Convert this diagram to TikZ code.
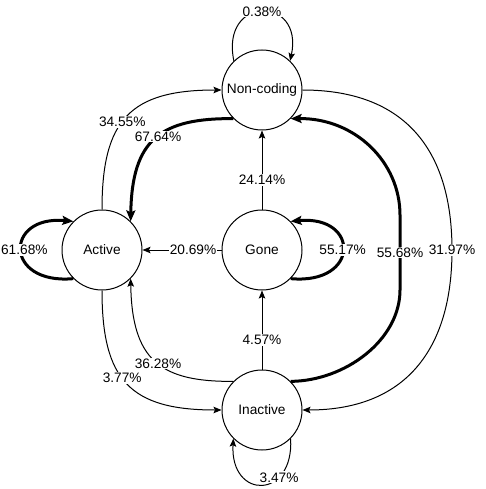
\documentclass[tikz,border=0pt]{standalone}
\usepackage{fontspec}
\setmainfont{Liberation Sans}
\usetikzlibrary{arrows.meta}
\begin{document}
\begin{tikzpicture}[x=1pt,y=-1pt,
  state/.style={circle,draw,line width=1pt,fill=white,minimum size=80pt,inner sep=0pt,font=\fontsize{13.7}{16}\selectfont},
  edgethin/.style={line width=1pt,-{Stealth[length=8pt,width=6.5pt,inset=1.5pt]}},
  edgethick/.style={line width=3pt,-{Stealth[length=11pt,width=9pt,inset=2pt]}},
  lbl/.style={fill=white,inner sep=1pt,font=\fontsize{13.7}{16}\selectfont}]
\useasboundingbox (0,0) rectangle (486,489);

\node[state] (nc)   at (262,90)  {Non-coding};
\node[state] (act)  at (102,250) {Active};
\node[state] (gone) at (262,250) {Gone};
\node[state] (ina)  at (262,410) {Inactive};

% self loops
\draw[edgethin] (nc.134) .. controls (220,-5) and (304,-5) .. node[lbl,pos=0.5] {0.38\%} (nc.46);
\draw[edgethick] (act.225) .. controls (4,285) and (4,215) .. node[lbl,pos=0.5,xshift=3pt] {61.68\%} (act.135);
\draw[edgethick] (gone.-45) .. controls (360,285) and (360,215) .. node[lbl,pos=0.5] {55.17\%} (gone.45);
\draw[edgethin] (ina.-45) .. controls (294,500) and (230,500) .. node[lbl,pos=0.3] {3.47\%} (ina.225);

% straight edges
\draw[edgethin] (gone.90) -- node[lbl,pos=0.375] {24.14\%} (nc.270);
\draw[edgethin] (gone.180) -- node[lbl,pos=0.36] {20.69\%} (act.0);
\draw[edgethin] (ina.90) -- node[lbl,pos=0.375] {4.57\%} (gone.270);

% curved edges on the left
\draw[edgethin] (act.90) .. controls (102,120) and (130,90) .. node[lbl,pos=0.45] {34.55\%} (nc.180);
\draw[edgethick] (nc.225) .. controls (160,118) and (132,140) .. node[lbl,pos=0.47] {67.64\%} (act.45);
\draw[edgethin] (ina.135) .. controls (160,382) and (132,360) .. node[lbl,pos=0.47] {36.28\%} (act.-45);
\draw[edgethin] (act.270) .. controls (102,380) and (130,410) .. node[lbl,pos=0.45] {3.77\%} (ina.180);

% curved edges on the right
\draw[edgethick] (ina.45) .. controls (345,381) and (400,340) .. (400,290)
  -- node[lbl,pos=0.5] {55.68\%} (400,215)
  .. controls (400,162) and (355,118) .. (nc.-45);
\draw[edgethin] (nc.0) .. controls (405,90) and (452,150) .. (452,250) node[lbl] {31.97\%}
  .. controls (452,350) and (405,410) .. (ina.0);
\end{tikzpicture}
\end{document}
